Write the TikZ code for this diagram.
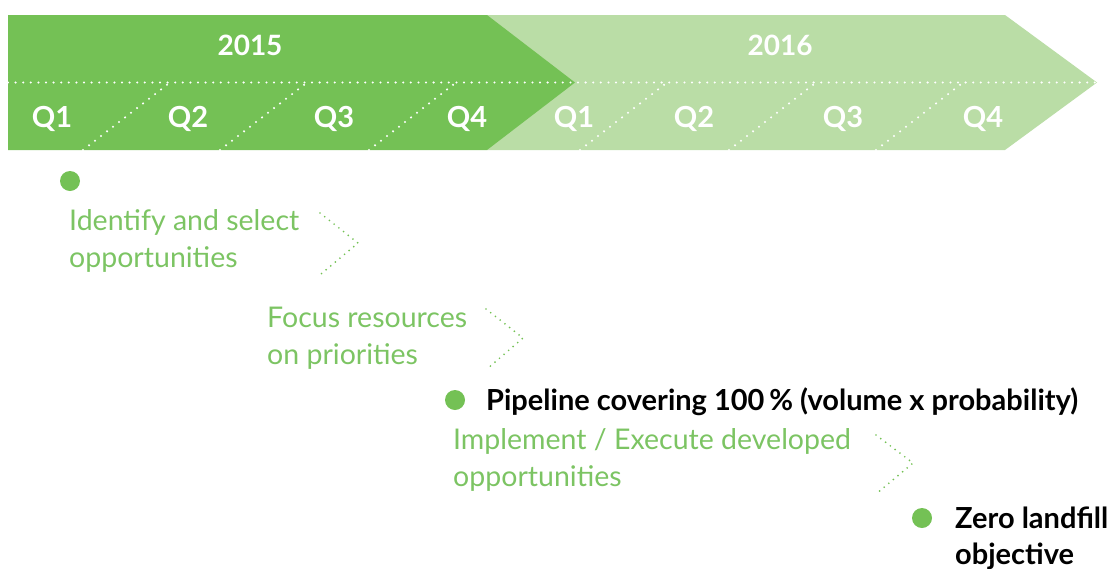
\documentclass[tikz,border=0pt]{standalone}
\usepackage{fontspec}
\setmainfont{Lato}
\definecolor{gdark}{HTML}{74C155}
\definecolor{glight}{HTML}{BADDA6}
\definecolor{gtext}{HTML}{7CC463}
\begin{document}
\begin{tikzpicture}[x=1pt,y=-1pt,
  wdots/.style={white, line width=2.3pt, line cap=round, dash pattern=on 0pt off 7.6pt},
  gdots/.style={gdark, line width=1.9pt, line cap=round, dash pattern=on 0pt off 6pt},
  yearlbl/.style={text=white, font=\fontsize{28}{28}\selectfont\bfseries, anchor=base},
  qlbl/.style={text=white, font=\fontsize{29}{29}\selectfont\bfseries, anchor=base},
  steptext/.style={text=gtext, font=\fontsize{28.5}{37}\selectfont, align=left, anchor=base west, inner sep=0pt},
  milestone/.style={text=black, font=\fontsize{29}{36}\selectfont\bfseries, align=left, anchor=base west, inner sep=0pt},
  bullet/.style={circle, fill=gdark, minimum size=20pt, inner sep=0pt}]
\useasboundingbox (0,0) rectangle (1110,568);
% chevrons
\fill[glight] (487,15) -- (1005,15) -- (1097,82.5) -- (1005,150) -- (487,150) -- cycle;
\fill[gdark] (8,15) -- (487,15) -- (575,82.5) -- (487,150) -- (8,150) -- cycle;
% dotted dividers
\draw[wdots] (8,82.5) -- (1097,82.5);
\foreach \b in {83,220,369,580,729,876}
  \draw[wdots] (\b,150) -- (\b+87,82.5);
% labels
\node[yearlbl] (y15) at (250,55) {2015};
\node[yearlbl] (y16) at (780,55) {2016};
\node[qlbl] (q1a) at (52,127) {Q1};
\node[qlbl] (q2a) at (188,127) {Q2};
\node[qlbl] (q3a) at (334,127) {Q3};
\node[qlbl] (q4a) at (467,127) {Q4};
\node[qlbl] (q1b) at (574,127) {Q1};
\node[qlbl] (q2b) at (694,127) {Q2};
\node[qlbl] (q3b) at (843,127) {Q3};
\node[qlbl] (q4b) at (983,127) {Q4};
% bullets
\node[bullet] (b1) at (70,181) {};
\node[bullet] (b2) at (455,400) {};
\node[bullet] (b3) at (922,518) {};
% texts (anchor at last line baseline)
\node[steptext] (t1) at (69,267) {Identify and select\\opportunities};
\node[steptext] (t2) at (267,364) {Focus resources\\on priorities};
\node[steptext] (t3) at (453,486) {Implement / Execute developed\\opportunities};
\node[milestone] (m2) at (486,410) {Pipeline covering 100\,\% (volume x probability)};
\node[milestone] (m3) at (955,564) {Zero landfill\\objective};
% dotted chevrons
\draw[gdots] (320,213) -- (358,243) -- (321,274);
\draw[gdots] (486,309) -- (523,338) -- (487,369);
\draw[gdots] (876,435) -- (913,463) -- (876,494);
\end{tikzpicture}
\end{document}
